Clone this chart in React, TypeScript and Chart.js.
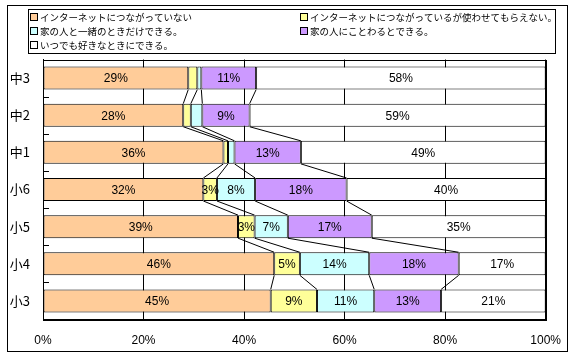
import React, { useEffect, useRef } from 'react';
import { Chart, registerables } from 'chart.js';
Chart.register(...registerables);

const categories = ['中3', '中2', '中1', '小6', '小5', '小4', '小3'];
const seriesNames = [
  'インターネットにつながっていない',
  'インターネットにつながっているが使わせてもらえない。',
  '家の人と一緒のときだけできる。',
  '家の人にことわるとできる。',
  'いつでも好きなときにできる。',
];
const notConnected = [28.9, 27.9, 35.9, 31.9, 38.8, 46.0, 45.3];
const connectedNotAllowed = [1.8, 1.5, 0.9, 2.7, 3.3, 5.1, 9.2];
const withFamilyOnly = [0.8, 2.3, 1.3, 7.6, 6.6, 13.8, 11.4];
const askFamily = [10.9, 9.4, 13.2, 18.2, 16.7, 17.8, 13.3];
const anytime = [57.6, 58.9, 48.7, 39.6, 34.6, 17.3, 20.8];
const seriesColors = ['#FFCC99', '#FFFF99', '#CCFFFF', '#CC99FF', '#FFFFFF'];

const seriesValues = [notConnected, connectedNotAllowed, withFamilyOnly, askFamily, anytime];

const NUM_FONT = '12px "Liberation Sans", Arial, sans-serif';
const JP_FONT = '9.5px "Noto Sans CJK JP", sans-serif';

const framePlugin = {
  id: 'frameLegend',
  beforeDraw(chart: any) {
    const ctx = chart.ctx;
    ctx.save();
    ctx.fillStyle = '#FFFFFF';
    ctx.fillRect(0, 0, chart.width, chart.height);
    ctx.restore();
  },
  afterDraw(chart: any) {
    const ctx = chart.ctx;
    ctx.save();
    ctx.strokeStyle = '#000';
    ctx.lineWidth = 1;
    // outer frame
    ctx.strokeRect(7.5, 5.5, 560, 346);
    // legend box
    ctx.strokeRect(28.5, 9.5, 527, 44);
    const pos = [
      [30, 17], [300, 17],
      [30, 31], [300, 31],
      [30, 45],
    ];
    ctx.font = JP_FONT;
    ctx.textBaseline = 'middle';
    ctx.textAlign = 'left';
    seriesNames.forEach((name, i) => {
      const [x, y] = pos[i];
      ctx.fillStyle = seriesColors[i];
      ctx.fillRect(x + 0.5, y - 3.5, 7, 7);
      ctx.strokeStyle = '#000';
      ctx.strokeRect(x + 0.5, y - 3.5, 7, 7);
      ctx.fillStyle = '#000';
      ctx.fillText(name, x + 10, y + 0.5);
    });
    // plot area border
    const a = chart.chartArea;
    ctx.strokeRect(Math.round(a.left) + 0.5, Math.round(a.top) + 0.5, Math.round(a.right - a.left), Math.round(a.bottom - a.top));
    // inside tick marks on the category axis
    const n = categories.length;
    const band = (a.bottom - a.top) / n;
    ctx.beginPath();
    for (let k = 1; k < n; k++) {
      const y = Math.round(a.top + band * k) + 0.5;
      ctx.moveTo(Math.round(a.left), y);
      ctx.lineTo(Math.round(a.left) + 6, y);
    }
    ctx.stroke();
    ctx.restore();
  },
};

const seriesLinesPlugin = {
  id: 'seriesLines',
  afterDatasetsDraw(chart: any) {
    const ctx = chart.ctx;
    ctx.save();
    ctx.strokeStyle = '#000';
    ctx.lineWidth = 1;
    ctx.beginPath();
    const nd = chart.data.datasets.length;
    for (let d = 0; d < nd - 1; d++) {
      const els = chart.getDatasetMeta(d).data;
      for (let i = 0; i < els.length - 1; i++) {
        const a = els[i];
        const b = els[i + 1];
        ctx.moveTo(a.x, a.y + a.height / 2);
        ctx.lineTo(b.x, b.y - b.height / 2);
      }
    }
    ctx.stroke();
    // data labels
    ctx.font = NUM_FONT;
    ctx.fillStyle = '#000';
    ctx.textAlign = 'center';
    ctx.textBaseline = 'middle';
    for (let d = 0; d < nd; d++) {
      const els = chart.getDatasetMeta(d).data;
      const vals = chart.data.datasets[d].data;
      els.forEach((el: any, i: number) => {
        const v = vals[i];
        if (v < 2.5) return;
        ctx.fillText(Math.round(v) + '%', (el.x + el.base) / 2, el.y + 1);
      });
    }
    ctx.restore();
  },
};

export default function App() {
  const ref = useRef<HTMLCanvasElement>(null);
  useEffect(() => {
    if (!ref.current) return;
    const chart = new Chart(ref.current, {
      type: 'bar',
      data: {
        labels: categories,
        datasets: seriesValues.map((vals, i) => ({
          label: seriesNames[i],
          data: vals,
          backgroundColor: seriesColors[i],
          borderColor: '#000',
          borderWidth: 1,
          borderSkipped: false,
          categoryPercentage: 1,
          barPercentage: 0.62,
        })),
      },
      options: {
        indexAxis: 'y',
        animation: false,
        responsive: false,
        maintainAspectRatio: false,
        layout: { padding: { top: 59.5, right: 29, left: 0, bottom: 0 } },
        plugins: {
          legend: { display: false },
          tooltip: { enabled: false },
          title: { display: false },
        },
        scales: {
          x: {
            stacked: true,
            min: 0,
            max: 100,
            ticks: {
              stepSize: 20,
              callback: (v: any) => v + '%',
              color: '#000',
              font: { family: '"Liberation Sans", Arial, sans-serif', size: 12 },
              padding: 14,
              maxRotation: 0,
            },
            grid: { color: '#000', drawTicks: false, lineWidth: 1 },
            border: { color: '#000' },
            afterFit: (s: any) => { s.height = 37.5; },
          },
          y: {
            stacked: true,
            ticks: {
              color: '#000',
              font: { family: '"Noto Sans CJK JP", sans-serif', size: 13 },
              padding: 13,
            },
            grid: { display: false, drawTicks: false },
            border: { color: '#000' },
            afterFit: (s: any) => { s.width = 43; },
          },
        },
      },
      plugins: [framePlugin, seriesLinesPlugin],
    } as any);
    return () => chart.destroy();
  }, []);
  return (
    <div style={{ position: 'fixed', left: 0, top: 0, width: 575, height: 357, background: '#fff' }}>
      <canvas ref={ref} width={575} height={357} style={{ width: 575, height: 357, display: 'block' }} />
    </div>
  );
}
